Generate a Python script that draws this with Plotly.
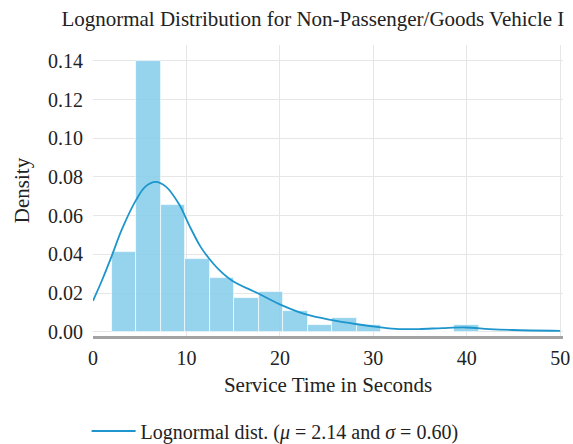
import plotly.graph_objects as go

# Histogram data (density)
bin_edges = [2.0, 4.62, 7.24, 9.86, 12.48, 15.10, 17.72, 20.34, 22.96, 25.58,
             28.20, 30.82, 33.44, 36.06, 38.68, 41.30]
densities = [0.0411, 0.1400, 0.0657, 0.0378, 0.0276, 0.0173, 0.0204, 0.0105,
             0.0035, 0.0069, 0.0036, 0.0, 0.0, 0.0, 0.0035]

# Fitted curve
curve_x = [0, 1, 2.07, 3.1, 4.6, 5.6, 6.7, 7.8, 9.2, 10.3, 11.5, 12.4, 13.5, 14.9,
           17.8, 20.3, 22.9, 25.6, 28.1, 30.6, 32.8, 34.9, 37.4, 39.9, 42.4, 44.9, 50]
curve_y = [0.016, 0.027, 0.040, 0.053, 0.068, 0.075, 0.0775, 0.075, 0.066, 0.055,
           0.044, 0.038, 0.032, 0.0264, 0.0195, 0.0135, 0.0088, 0.006, 0.004, 0.0024,
           0.0014, 0.0014, 0.0019, 0.0022, 0.0014, 0.0009, 0.0005]

x_ticks = [0, 10, 20, 30, 40, 50]
y_ticks = [0.00, 0.02, 0.04, 0.06, 0.08, 0.10, 0.12, 0.14]

centers = [(a + b) / 2 for a, b in zip(bin_edges[:-1], bin_edges[1:])]
widths = [b - a for a, b in zip(bin_edges[:-1], bin_edges[1:])]

FONT = "Liberation Serif"
TXT = "#222222"

fig = go.Figure()
fig.add_trace(go.Bar(
    x=centers, y=densities, width=widths,
    marker=dict(color="rgba(135,206,235,0.88)", line=dict(color="rgba(255,255,255,0.8)", width=0.8)),
    showlegend=False, hoverinfo="skip",
))
fig.add_trace(go.Scatter(
    x=curve_x, y=curve_y, mode="lines", line_shape="spline",
    line=dict(color="rgb(30,150,205)", width=1.8),
    name="Lognormal dist. (<i>μ</i> = 2.14 and <i>σ</i> = 0.60)",
))

fig.update_layout(
    width=573, height=444,
    margin=dict(l=93, r=10, t=45, b=108, autoexpand=False),
    paper_bgcolor="white", plot_bgcolor="white",
    font=dict(family=FONT, size=20, color=TXT),
    title=dict(text="Lognormal Distribution for Non-Passenger/Goods Vehicle I",
               x=0.546, xanchor="center", y=0.959, yanchor="middle",
               font=dict(family=FONT, size=21, color=TXT)),
    bargap=0,
    showlegend=True,
    legend=dict(orientation="h", x=-0.0136, xanchor="left",
                yref="container", y=0.0293, yanchor="middle",
                itemwidth=44,
                font=dict(family=FONT, size=20, color=TXT), bgcolor="rgba(0,0,0,0)"),
)
fig.update_xaxes(
    range=[0, 50.3], tickvals=x_ticks, ticktext=[str(v) for v in x_ticks],
    showgrid=True, gridcolor="#e6e6e6", gridwidth=1, zeroline=False,
    showline=True, linecolor="#a3a3a3", linewidth=2.5, ticks="",
    automargin=False, ticklabelstandoff=2,
    title=dict(text="Service Time in Seconds", standoff=10, font=dict(size=21)),
    tickfont=dict(size=20),
)
fig.update_yaxes(
    range=[-0.0022, 0.1482], tickvals=y_ticks, ticktext=[f"{v:.2f}" for v in y_ticks],
    showgrid=True, gridcolor="#e6e6e6", gridwidth=1, zeroline=False,
    showline=False, ticks="",
    automargin=False, ticklabelstandoff=9,
    title=dict(text="Density", standoff=12, font=dict(size=21)),
    tickfont=dict(size=20),
)

fig.write_html("out.html")
